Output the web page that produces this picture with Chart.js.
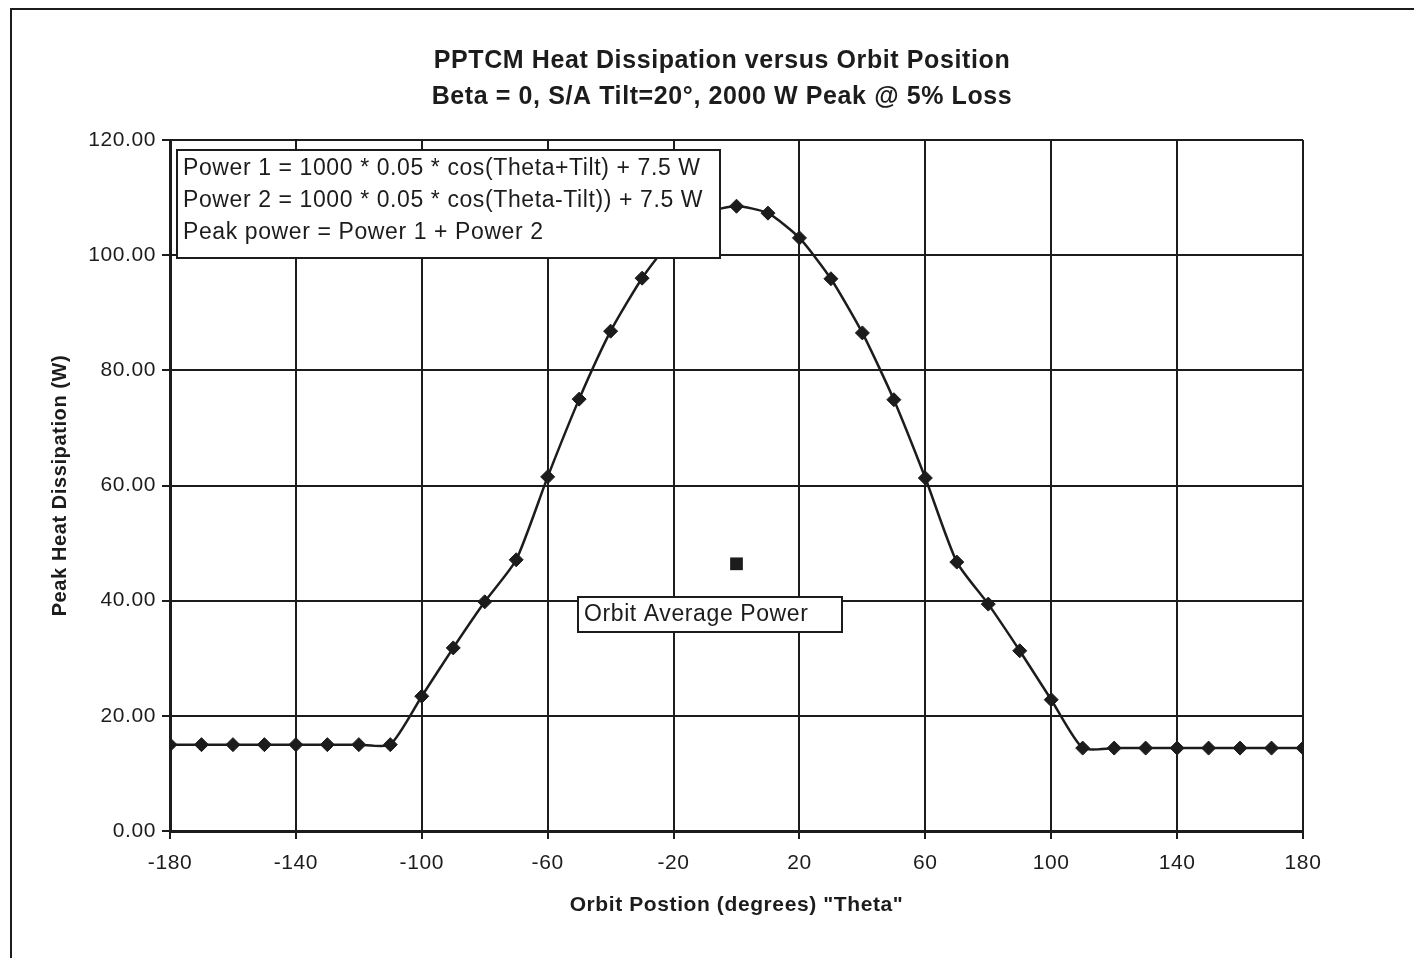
<!DOCTYPE html>
<html>
<head>
<meta charset="utf-8">
<script src="https://cdn.jsdelivr.net/npm/chart.js@4.4.1/dist/chart.umd.min.js"></script>
<style>
  html, body { margin: 0; padding: 0; background: #fff; }
  #wrap { width: 1414px; height: 958px; position: relative; }
</style>
</head>
<body>
<div id="wrap"><canvas id="js-chart-heat"></canvas></div>
<script>
// orbit position (deg) and peak heat dissipation (W)
const theta = [-180, -170, -160, -150, -140, -130, -120, -110, -100, -90, -80, -70, -60, -50, -40, -30, -20, -10,
               0, 10, 20, 30, 40, 50, 60, 70, 80, 90, 100, 110, 120, 130, 140, 150, 160, 170, 180];
const peakPower = [15.0, 15.0, 15.0, 15.0, 15.0, 15.0, 15.0, 15.0, 23.4, 31.8, 39.8, 47.1, 61.5, 75.0, 86.8, 96.0, 103.0, 107.3,
                   108.5, 107.3, 103.0, 95.9, 86.5, 74.9, 61.3, 46.7, 39.4, 31.3, 22.8, 14.4, 14.4, 14.4, 14.4, 14.4, 14.4, 14.4, 14.4];
const avgTheta = [0];
const avgPower = [46.4];

const titleLines = ["PPTCM Heat Dissipation versus Orbit Position", "Beta = 0, S/A Tilt=20\u00b0, 2000 W Peak @ 5% Loss"];
const noteLines = ["Power 1 = 1000 * 0.05 * cos(Theta+Tilt) + 7.5 W",
                   "Power 2 = 1000 * 0.05 * cos(Theta-Tilt)) + 7.5 W",
                   "Peak power = Power 1 + Power 2"];
const avgLabel = "Orbit Average Power";

const FONT = "'Liberation Sans', Arial, sans-serif";
const INK = "#1c1c1c";

Chart.defaults.font.family = FONT;
Chart.defaults.color = INK;

// page frame + title (the scanned original has wide, heavy lettering)
const framePlugin = {
    id: "frame",
    beforeDraw(chart) {
        const c = chart.ctx;
        c.letterSpacing = "0.6px";
        c.save();
        c.fillStyle = "#fff";
        c.fillRect(0, 0, chart.width, chart.height);
        c.strokeStyle = INK;
        c.lineWidth = 2;
        c.beginPath();
        c.moveTo(11, chart.height);
        c.lineTo(11, 9);
        c.lineTo(chart.width, 9);
        c.stroke();
        c.fillStyle = INK;
        c.font = "bold 25px " + FONT;
        c.textAlign = "center";
        c.textBaseline = "middle";
        c.fillText(titleLines[0], 722, 61);
        c.fillText(titleLines[1], 722, 97);
        c.restore();
    }
};

// text boxes drawn on top of the plot
const notesPlugin = {
    id: "notes",
    afterDatasetsDraw(chart) {
        const c = chart.ctx;
        const a = chart.chartArea;
        c.save();
        c.letterSpacing = "0.6px";
        c.font = "23px " + FONT;
        c.textAlign = "left";
        c.textBaseline = "middle";

        // formula box
        let bx = a.left + 7, by = a.top + 10, bw = 543, bh = 108;
        c.fillStyle = "#fff";
        c.fillRect(bx, by, bw, bh);
        c.strokeStyle = INK;
        c.lineWidth = 2;
        c.strokeRect(bx, by, bw, bh);
        c.fillStyle = INK;
        noteLines.forEach((t, i) => c.fillText(t, bx + 6, by + 19 + i * 32));

        // orbit average label
        bx = a.left + 408; by = a.top + 457; bw = 264; bh = 35;
        c.fillStyle = "#fff";
        c.fillRect(bx, by, bw, bh);
        c.strokeRect(bx, by, bw, bh);
        c.fillStyle = INK;
        c.fillText(avgLabel, bx + 6, by + 18);
        c.restore();
    }
};

let r = {
    responsive: true,
    maintainAspectRatio: false,
    animation: false,
    layout: {
        padding: { top: 140, right: 111, bottom: 27, left: 10 }
    },
    plugins: {
        legend: { display: false },
        tooltip: { enabled: false }
    },
    scales: {
        x: {
            type: "linear",
            min: -180,
            max: 180,
            afterFit: function (s) { s.height = 100; },
            ticks: {
                stepSize: 40,
                color: INK,
                padding: 12,
                font: { size: 21 }
            },
            grid: {
                color: INK,
                lineWidth: 2,
                tickLength: 8,
                tickColor: INK
            },
            border: { color: INK, width: 3 },
            title: {
                display: true,
                text: "Orbit Postion (degrees) \"Theta\"",
                color: INK,
                font: { size: 21, weight: "bold" },
                padding: { top: 0, bottom: 13 }
            }
        },
        y: {
            min: 0,
            max: 120,
            afterFit: function (s) { s.width = 160; },
            ticks: {
                stepSize: 20,
                color: INK,
                padding: 6,
                font: { size: 21 },
                callback: function (v) { return v.toFixed(2); }
            },
            grid: {
                color: INK,
                lineWidth: 2,
                tickLength: 8,
                tickColor: INK
            },
            border: { color: INK, width: 3 },
            title: {
                display: true,
                text: "Peak Heat Dissipation (W)",
                color: INK,
                font: { size: 20, weight: "bold" },
                padding: { top: 38, bottom: 0 }
            }
        }
    }
};

let e = {
    datasets: [{
        label: "Peak Power",
        data: theta.map((t, i) => ({ x: t, y: peakPower[i] })),
        showLine: true,
        borderColor: INK,
        borderWidth: 2.5,
        backgroundColor: INK,
        tension: 0.2,
        pointStyle: "rectRot",
        pointRadius: 7,
        pointBackgroundColor: INK,
        pointBorderColor: INK,
        pointBorderWidth: 1
    }, {
        label: "Orbit Average Power",
        data: avgTheta.map((t, i) => ({ x: t, y: avgPower[i] })),
        showLine: false,
        pointStyle: "rect",
        pointRadius: 9,
        pointBackgroundColor: INK,
        pointBorderColor: INK,
        pointBorderWidth: 0
    }]
};

new Chart(document.getElementById("js-chart-heat"), {
    type: "scatter",
    data: e,
    options: r,
    plugins: [framePlugin, notesPlugin]
});
</script>
</body>
</html>
